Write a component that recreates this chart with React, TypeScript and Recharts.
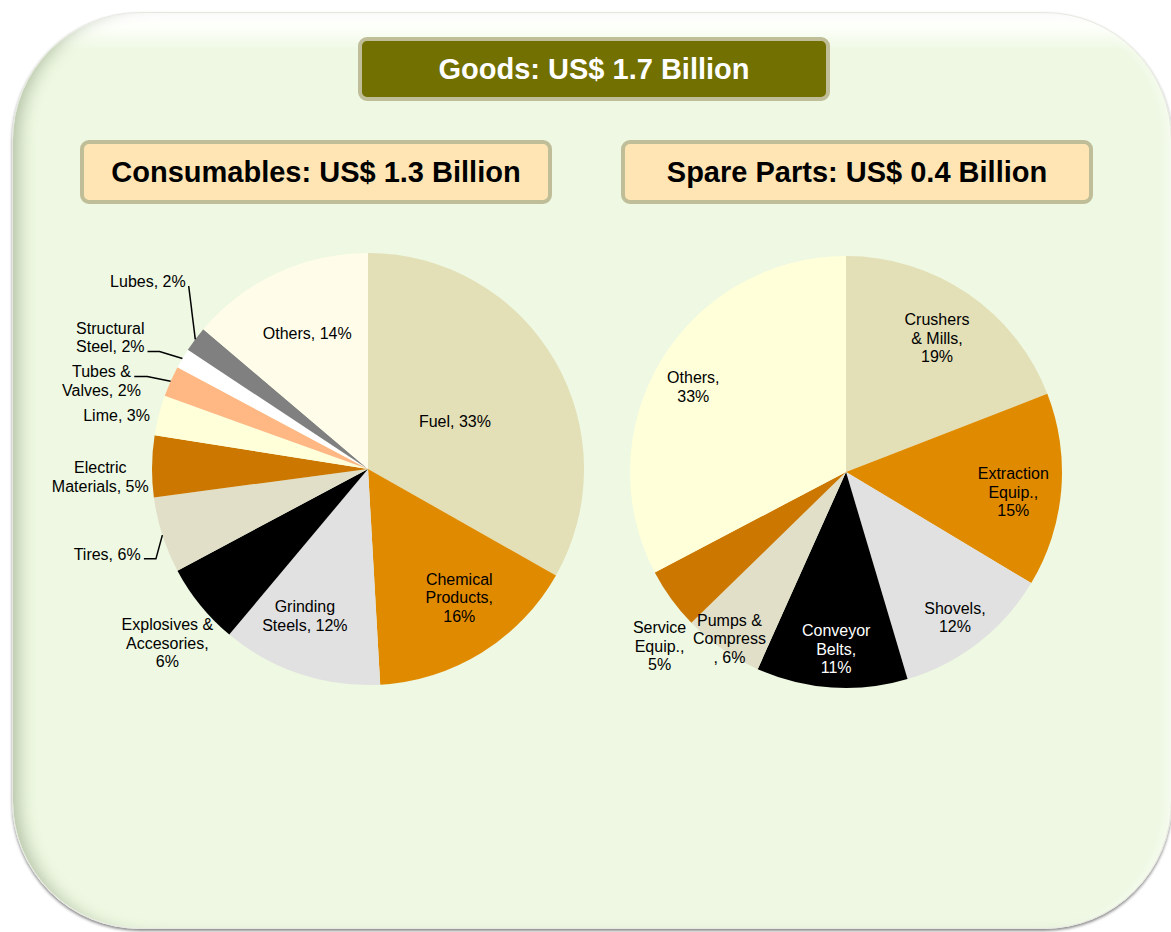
import React from 'react';
import { PieChart, Pie, Cell } from 'recharts';

// ---------- DATA ----------
const consumableCategories = [
  'Fuel', 'Chemical Products', 'Grinding Steels', 'Explosives & Accesories', 'Tires',
  'Electric Materials', 'Lime', 'Tubes & Valves', 'Structural Steel', 'Lubes', 'Others',
];
const consumableShares = [33.2, 15.9, 12.0, 6.1, 5.7, 4.6, 3.0, 2.3, 1.5, 1.9, 13.8];
const consumableLabelLines = [
  ['Fuel, 33%'],
  ['Chemical', 'Products,', '16%'],
  ['Grinding', 'Steels, 12%'],
  ['Explosives &', 'Accesories,', '6%'],
  ['Tires, 6%'],
  ['Electric', 'Materials, 5%'],
  ['Lime, 3%'],
  ['Tubes &', 'Valves, 2%'],
  ['Structural', 'Steel, 2%'],
  ['Lubes, 2%'],
  ['Others, 14%'],
];

const sparePartCategories = [
  'Crushers & Mills', 'Extraction Equip.', 'Shovels', 'Conveyor Belts',
  'Pumps & Compress', 'Service Equip.', 'Others',
];
const sparePartShares = [19.1, 14.5, 11.8, 11.3, 6.0, 4.6, 32.7];
const sparePartLabelLines = [
  ['Crushers', '& Mills,', '19%'],
  ['Extraction', 'Equip.,', '15%'],
  ['Shovels,', '12%'],
  ['Conveyor', 'Belts,', '11%'],
  ['Pumps &', 'Compress', ', 6%'],
  ['Service', 'Equip.,', '5%'],
  ['Others,', '33%'],
];

const headerTitle = 'Goods: US$ 1.7 Billion';
const consumablesTitle = 'Consumables: US$ 1.3 Billion';
const sparePartsTitle = 'Spare Parts: US$ 0.4 Billion';

// ---------- STYLES ----------
const consumableColors = [
  '#E3DFB6', '#E08A00', '#E1E1E1', '#000000', '#E1DFC8',
  '#CC7700', '#FFFFD9', '#FFB884', '#FFFFFF', '#808080', '#FFFDE9',
];
const sparePartColors = ['#E3DFB6', '#E08A00', '#E1E1E1', '#000000', '#E1DFC8', '#CC7700', '#FFFFD9'];
const sparePartTextColors = ['#000', '#000', '#000', '#fff', '#000', '#000', '#000'];

// label placement: radius ratio, clockwise angle shift (deg), leader: line index to attach, stub length
type LabelLayout = { r: number; d: number; leader?: { line: number; stub: number } };
const consumableLabelLayout: LabelLayout[] = [
  { r: 0.46, d: 1.3 },
  { r: 0.73, d: -3.5 },
  { r: 0.74, d: 4.9 },
  { r: 1.23, d: -1.9 },
  { r: 1.27, d: -0.2, leader: { line: 0, stub: 12 } },
  { r: 1.24, d: -2.4 },
  { r: 1.19, d: -2.4 },
  { r: 1.3, d: -5.6, leader: { line: 0, stub: 13 } },
  { r: 1.34, d: -3.7, leader: { line: 1, stub: 12 } },
  { r: 1.34, d: 3.6, leader: { line: 0, stub: 0 } },
  { r: 0.69, d: 0.8 },
];
const sparePartLabelLayout: LabelLayout[] = [
  { r: 0.75, d: -0.2 },
  { r: 0.78, d: 1.9 },
  { r: 0.84, d: 0.9 },
  { r: 0.82, d: -0.6 },
  { r: 0.94, d: 0.1 },
  { r: 1.18, d: -7 },
  { r: 0.81, d: -1.9 },
];

const FONT = "'Liberation Sans', Arial, Helvetica, sans-serif";
const LABEL_SIZE = 16;
const LINE_H = 18.5;
const RAD = Math.PI / 180;

const CHAR_W: Record<string, number> = {
  ' ': 278, ',': 278, '.': 278, '%': 889, '&': 667,
  A: 667, B: 667, C: 722, D: 722, E: 667, F: 611, G: 778, L: 556, M: 833, O: 778,
  P: 667, S: 667, T: 611, V: 667,
  a: 556, b: 556, c: 500, d: 556, e: 556, g: 556, h: 556, i: 222, l: 222, m: 833,
  n: 556, o: 556, p: 556, q: 556, r: 333, s: 500, t: 278, u: 556, v: 500, w: 722,
  x: 500, y: 500,
};
const textWidth = (s: string, size: number) =>
  s.split('').reduce((acc, ch) => acc + (CHAR_W[ch] ?? 556), 0) * size / 1000;

const makeLabel = (lines: string[][], layout: LabelLayout[], colors?: string[]) => (props: any) => {
  const { cx, cy, midAngle, outerRadius, index } = props;
  const lay = layout[index];
  const txt = lines[index];
  const a = (midAngle - lay.d) * RAD;
  const rr = outerRadius * lay.r;
  const x = cx + rr * Math.cos(a);
  const y = cy - rr * Math.sin(a);
  const top = y - ((txt.length - 1) * LINE_H) / 2;
  const fill = colors ? colors[index] : '#000';
  let leader = null;
  if (lay.leader) {
    const ln = txt[lay.leader.line];
    const sx = x + textWidth(ln, LABEL_SIZE) / 2 + 3;
    const sy = top + lay.leader.line * LINE_H + 5;
    const ma = midAngle * RAD;
    const ex = cx + outerRadius * Math.cos(ma);
    const ey = cy - outerRadius * Math.sin(ma);
    const pts = lay.leader.stub > 0
      ? `${sx},${sy} ${sx + lay.leader.stub},${sy} ${ex},${ey}`
      : `${sx},${sy} ${ex},${ey}`;
    leader = <polyline points={pts} fill="none" stroke="#000" strokeWidth={1.5} />;
  }
  return (
    <g key={`lbl-${index}`}>
      {leader}
      <text
        x={x}
        y={top}
        textAnchor="middle"
        fontFamily={FONT}
        fontSize={LABEL_SIZE}
        fill={fill}
      >
        {txt.map((t, i) => (
          <tspan key={i} x={x} y={top + i * LINE_H} dy="0.36em">{t}</tspan>
        ))}
      </text>
    </g>
  );
};

const boxBase: React.CSSProperties = {
  position: 'absolute',
  boxSizing: 'border-box',
  width: 472,
  height: 64,
  border: '4px solid #BFBE98',
  borderRadius: 9,
  display: 'flex',
  alignItems: 'center',
  justifyContent: 'center',
  fontFamily: FONT,
  fontWeight: 700,
  fontSize: 29,
  whiteSpace: 'nowrap',
};

export default function App() {
  const consumableData = consumableCategories.map((name, i) => ({ name, value: consumableShares[i] }));
  const sparePartData = sparePartCategories.map((name, i) => ({ name, value: sparePartShares[i] }));

  return (
    <div style={{ position: 'absolute', left: 0, top: 0, width: 1171, height: 932, overflow: 'hidden', background: '#fff' }}>
      <div
        style={{
          position: 'absolute',
          left: 12,
          top: 12,
          width: 1160,
          height: 917,
          borderRadius: 128,
          background: 'linear-gradient(to bottom, #ffffff 0px, #fdfffa 14px, #EEF8E2 38px, #EEF8E2 100%)',
          boxShadow:
            'inset 16px 0 16px -10px rgba(110,130,95,0.45), inset -10px 0 14px -8px rgba(255,255,255,0.7), 0 2px 3px rgba(0,0,0,0.45)',
          border: '1px solid #e6e8e0',
          boxSizing: 'border-box',
        }}
      />
      <div style={{ ...boxBase, left: 358, top: 37, background: '#727000', color: '#fff' }}>{headerTitle}</div>
      <div style={{ ...boxBase, left: 80, top: 140, background: '#FFE5B4', color: '#000' }}>{consumablesTitle}</div>
      <div style={{ ...boxBase, left: 621, top: 140, background: '#FFE5B4', color: '#000' }}>{sparePartsTitle}</div>

      <div style={{ position: 'absolute', left: 0, top: 0 }}>
        <PieChart width={1171} height={932} margin={{ top: 0, right: 0, bottom: 0, left: 0 }}>
          <Pie
            data={consumableData}
            dataKey="value"
            nameKey="name"
            cx={368}
            cy={469}
            outerRadius={216}
            startAngle={90}
            endAngle={-270}
            stroke="none"
            isAnimationActive={false}
            labelLine={false}
            label={makeLabel(consumableLabelLines, consumableLabelLayout)}
          >
            {consumableData.map((d, i) => (
              <Cell key={d.name} fill={consumableColors[i]} />
            ))}
          </Pie>
          <Pie
            data={sparePartData}
            dataKey="value"
            nameKey="name"
            cx={846}
            cy={472}
            outerRadius={216}
            startAngle={90}
            endAngle={-270}
            stroke="none"
            isAnimationActive={false}
            labelLine={false}
            label={makeLabel(sparePartLabelLines, sparePartLabelLayout, sparePartTextColors)}
          >
            {sparePartData.map((d, i) => (
              <Cell key={d.name} fill={sparePartColors[i]} />
            ))}
          </Pie>
        </PieChart>
      </div>
    </div>
  );
}
